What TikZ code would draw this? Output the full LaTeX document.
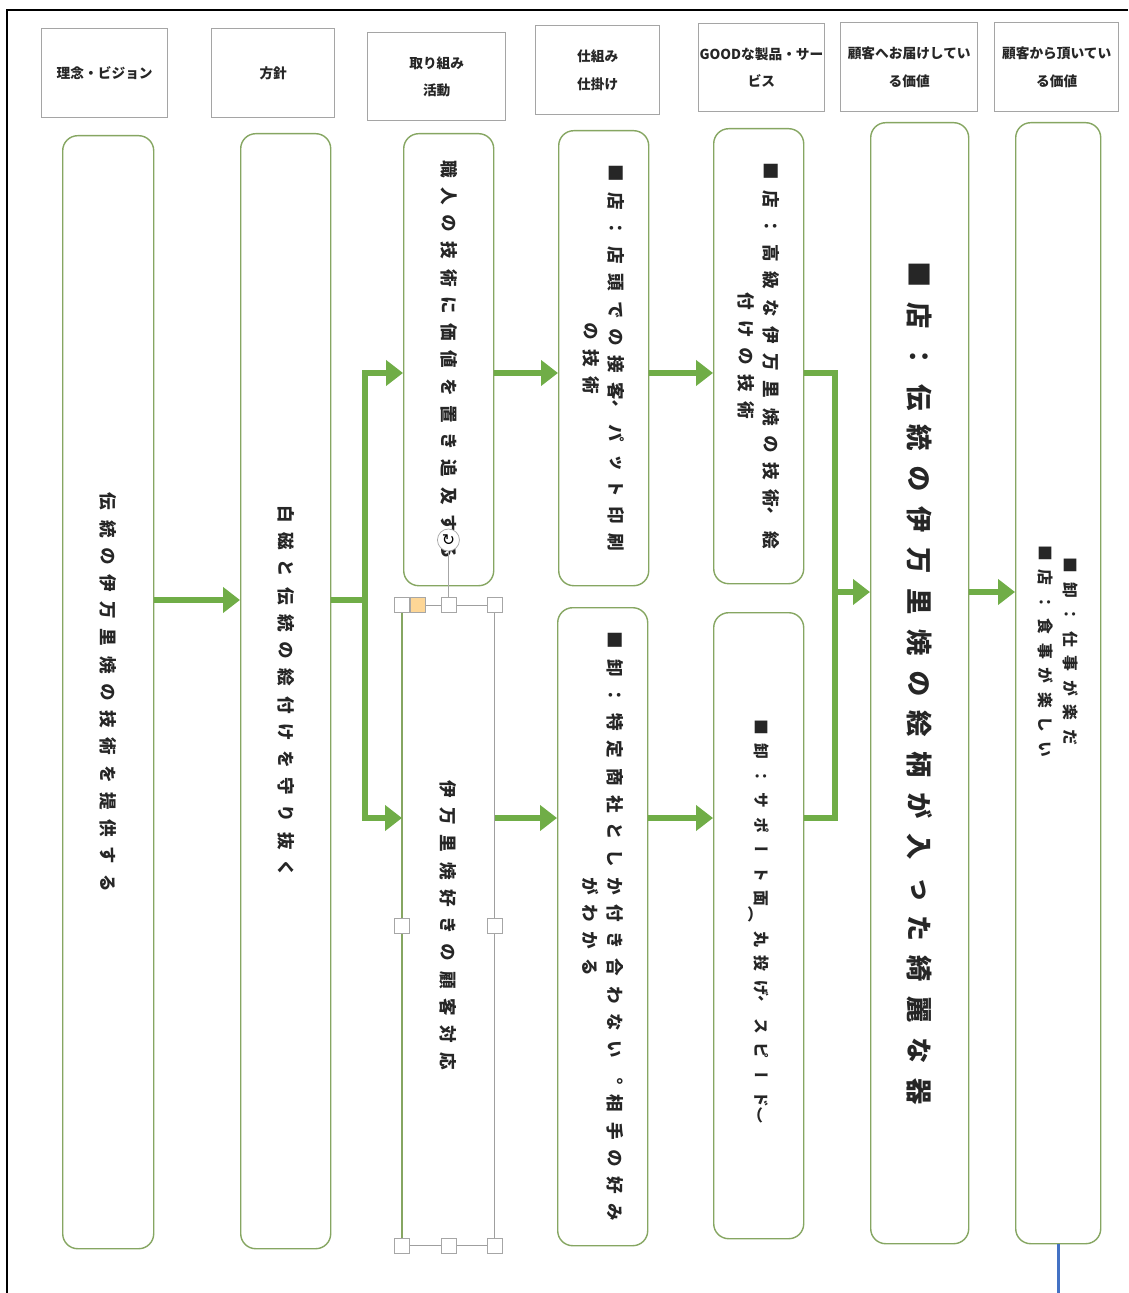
\documentclass[tikz,border=0pt]{standalone}
\usepackage{fontspec}
\setmainfont{Noto Sans CJK JP}
\newfontfamily\tatefont[Vertical=RotatedGlyphs, LetterSpace=55]{Noto Sans CJK JP}
\newfontfamily\yokofont{Noto Sans CJK JP}
\newfontfamily\symfont{DejaVu Sans}
\usepackage{graphicx}
\usepackage{xcolor}
\usepackage{tikz}
\usetikzlibrary{arrows.meta, positioning}

\newlength\px
\setlength\px{0.02cm}
% punctuation set across the vertical lines
\newcommand\tp[1]{\raisebox{-0.38em}{\yokofont\bfseries #1}\hspace{0.55em}}
\newcommand\tc{\raisebox{-0.38em}{\rotatebox[origin=c]{90}{\yokofont\bfseries ︑}}\hspace{0.55em}}

\definecolor{flowgreen}{RGB}{112,173,71}
\definecolor{laneline}{RGB}{134,166,98}
\definecolor{hdrline}{RGB}{165,165,165}
\definecolor{tailblue}{RGB}{68,114,196}
\definecolor{adjorange}{RGB}{253,214,150}

\begin{document}
\begin{tikzpicture}[
    x=0.02cm, y=-0.02cm,
    hdr/.style={rectangle, draw=hdrline, line width=0.8pt, anchor=north west, inner sep=0.5pt, align=center, text=black!85, font=\bfseries\fontsize{7.8}{15.5}\selectfont},
    lane/.style={rectangle, draw=laneline, line width=0.8pt, rounded corners=15\px, fill=white, anchor=north west, inner sep=0pt},
    vtxt/.style={rotate=-90, align=center, inner sep=0pt, text=black!85, font=\tatefont\bfseries\fontsize{10}{14.2}\selectfont},
    smalltxt/.style={vtxt, font=\tatefont\bfseries\fontsize{9}{14.2}\selectfont},
    bigtxt/.style={vtxt, font=\tatefont\bfseries\fontsize{15}{20}\selectfont},
    flowline/.style={draw=flowgreen, line width=6\px},
    flow/.style={flowline, -{Triangle[length=0.34cm, width=0.5cm]}},
    handle/.style={rectangle, draw=gray!70, fill=white, minimum size=15\px, inner sep=0pt, line width=0.5pt}
]
\useasboundingbox (0,0) rectangle (1128,1293);

% outer frame
\draw[line width=2\px] (1128,10) -- (7,10) -- (7,1293);

% header row
\node[hdr, minimum width=126\px, minimum height=89\px] (h1) at (41,28)  {理念・ビジョン};
\node[hdr, minimum width=123\px, minimum height=89\px] (h2) at (211,28) {方針};
\node[hdr, minimum width=138\px, minimum height=88\px] (h3) at (367,32) {取り組み\\活動};
\node[hdr, minimum width=124\px, minimum height=89\px] (h4) at (535,25) {仕組み\\仕掛け};
\node[hdr, minimum width=124\px, minimum height=88\px] (h5) at (698,23) {GOODな製品・サー\\ビス};
\node[hdr, minimum width=137\px, minimum height=89\px] (h6) at (840,22) {顧客へお届けしてい\\る価値};
\node[hdr, minimum width=124\px, minimum height=89\px] (h7) at (994,22) {顧客から頂いてい\\る価値};

% lanes
\node[lane, minimum width=91\px, minimum height=1113\px] (b1)  at (62,135)  {};
\node[lane, minimum width=90\px, minimum height=1115\px] (b2)  at (240,133) {};
\node[lane, minimum width=90\px, minimum height=452\px]  (b3a) at (403,133) {};
\node[rectangle, draw=gray!75, line width=0.5pt, anchor=north west, inner sep=0pt,
      minimum width=92\px, minimum height=640\px]        (b3b) at (402,605) {};
\node[lane, minimum width=90\px, minimum height=455\px]  (b4a) at (558,130) {};
\node[lane, minimum width=90\px, minimum height=638\px]  (b4b) at (557,607) {};
\node[lane, minimum width=90\px, minimum height=455\px]  (b5a) at (713,128) {};
\node[lane, minimum width=90\px, minimum height=626\px]  (b5b) at (713,612) {};
\node[lane, minimum width=98\px, minimum height=1121\px] (b6)  at (870,122) {};
\node[lane, minimum width=85\px, minimum height=1121\px] (b7)  at (1015,122) {};

% texts
\node[vtxt]     (t1)  at (b1.center)  {伝統の伊万里焼の技術を提供する};
\node[vtxt]     (t2)  at (b2.center)  {白磁と伝統の絵付けを守り抜く};
\node[vtxt]     (t3a) at (b3a.center) {職人の技術に価値を置き追及する};
\node[vtxt]     (t3b) at (b3b.center) {伊万里焼好きの顧客対応};
\node[vtxt]     (t4a) at (b4a.center) {■店：店頭での接客\tc パット印刷\\の技術};
\node[vtxt]     (t4b) at (b4b.center) {■卸：特定商社としか付き合わない。相手の好み\\がわかる};
\node[vtxt]     (t5a) at (b5a.center) {■店：高級な伊万里焼の技術\tc 絵\\付けの技術};
\node[smalltxt] (t5b) at (b5b.center) {■卸：サポート面\tp{︵}丸投げ\tc スピード\tp{︶}};
\node[bigtxt]   (t6)  at (b6.center)  {■店：伝統の伊万里焼の絵柄が入った綺麗な器};
\node[smalltxt] (t7)  at ([yshift=32\px]b7.center) {■卸：仕事が楽だ\\■店：食事が楽しい};

% selection handles
\draw[laneline, line width=1.2pt] (b3b.north west) -- (b3b.south west);
\node[handle] (hTL) at (b3b.north west) {};
\node[handle] (hT)  at (b3b.north) {};
\node[handle] (hTR) at (b3b.north east) {};
\node[handle] (hL)  at (b3b.west) {};
\node[handle] (hR)  at (b3b.east) {};
\node[handle] (hBL) at (b3b.south west) {};
\node[handle] (hB)  at (b3b.south) {};
\node[handle] (hBR) at (b3b.south east) {};
\node[handle, fill=adjorange] (hAdj) at ([xshift=16\px]b3b.north west) {};
\node[circle, draw=gray!70, fill=white, minimum size=22\px, inner sep=0pt,
      font=\symfont\fontsize{9}{9}\selectfont] (rot) at ([yshift=65\px]b3b.north) {↻};
\draw[gray!70] (rot) -- (hT);

% connectors
\coordinate (split) at (365,600);
\coordinate (merge) at (835,592);
\coordinate (upper) at (0,373);
\coordinate (lower) at (0,818);
\coordinate (tail)  at (1060,1293);

\draw[flow]     (b1.east |- split) -- (b2.west |- split);
\draw[flowline] (b2.east |- split) -- (split);
\draw[flow]     (split) |- (b3a.west |- upper);
\draw[flow]     (split) |- (b3b.west |- lower);
\draw[flow]     (b3a.east |- upper) -- (b4a.west |- upper);
\draw[flow]     (b3b.east |- lower) -- (b4b.west |- lower);
\draw[flow]     (b4a.east |- upper) -- (b5a.west |- upper);
\draw[flow]     (b4b.east |- lower) -- (b5b.west |- lower);
\draw[flowline] (b5a.east |- upper) -| (merge);
\draw[flowline] (b5b.east |- lower) -| (merge);
\draw[flow]     (merge) -- (b6.west |- merge);
\draw[flow]     (b6.east |- merge) -- (b7.west |- merge);
\draw[tailblue, line width=3\px] (b7.south) -- (b7.south |- tail);

\end{tikzpicture}
\end{document}
